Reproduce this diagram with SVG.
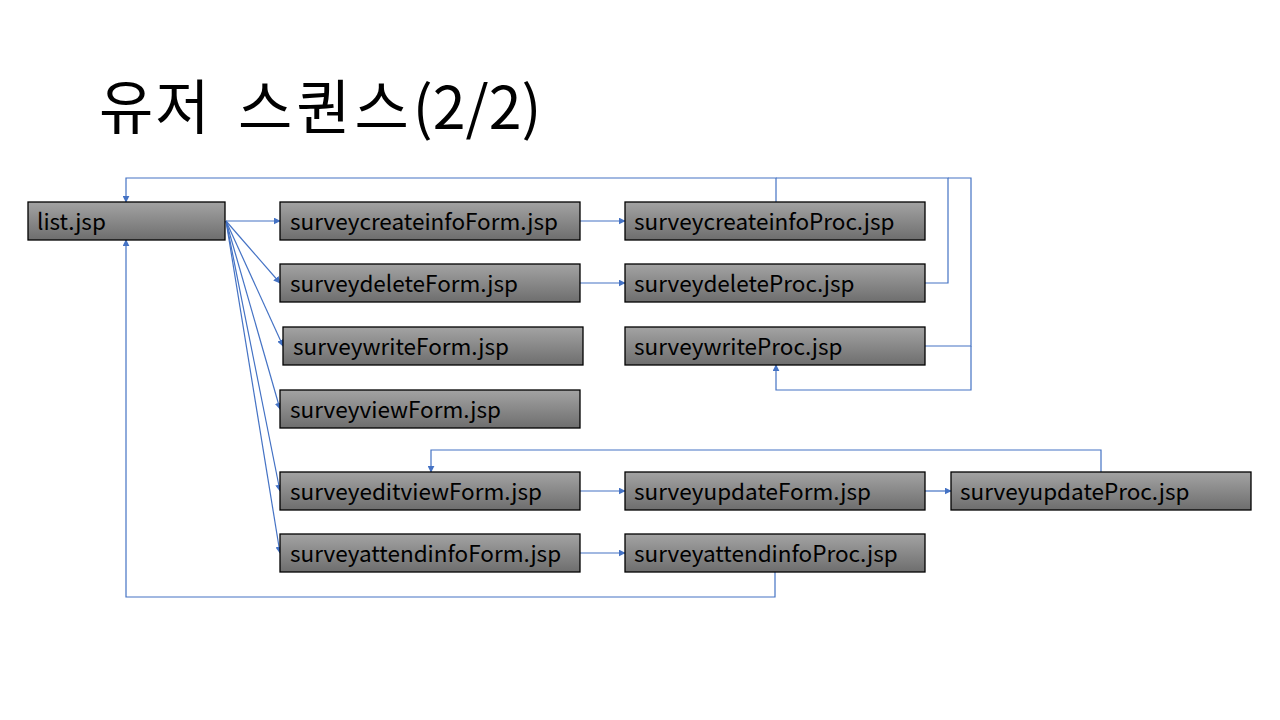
<svg xmlns="http://www.w3.org/2000/svg" width="1280" height="720" viewBox="0 0 1280 720">
<defs>
<linearGradient id="g" x1="0" y1="0" x2="0" y2="1">
<stop offset="0" stop-color="#a3a3a3"/>
<stop offset="1" stop-color="#6e6e6e"/>
</linearGradient>
<marker id="a" viewBox="0 0 10 10" refX="9" refY="5" markerWidth="7" markerHeight="7" markerUnits="userSpaceOnUse" orient="auto">
<path d="M0,0 L10,5 L0,10 z" fill="#4472C4"/>
</marker>
</defs>
<style>
.b{fill:url(#g);stroke:#000;stroke-width:1.3}
.t{font-family:"Noto Sans CJK KR","Noto Sans",sans-serif;font-size:22.5px;fill:#000}
.c{fill:none;stroke:#4472C4;stroke-width:1.2}
.title{font-family:"Noto Sans CJK KR","Noto Sans",sans-serif;font-size:59px;fill:#000}
</style>
<rect width="1280" height="720" fill="#fff"/>
<text class="title" y="129"><tspan x="99" letter-spacing="2">유저</tspan><tspan x="238" letter-spacing="4">스퀀스</tspan><tspan letter-spacing="0">(2/2)</tspan></text>
<g id="connectors">
<path class="c" d="M226,221 L280,221" marker-end="url(#a)"/>
<path class="c" d="M226,221 L280,283" marker-end="url(#a)"/>
<path class="c" d="M226,221 L283,346" marker-end="url(#a)"/>
<path class="c" d="M226,221 L280,409" marker-end="url(#a)"/>
<path class="c" d="M226,221 L280,491" marker-end="url(#a)"/>
<path class="c" d="M226,221 L280,553" marker-end="url(#a)"/>
<path class="c" d="M580,221 L625,221" marker-end="url(#a)"/>
<path class="c" d="M580,283 L625,283" marker-end="url(#a)"/>
<path class="c" d="M580,491 L625,491" marker-end="url(#a)"/>
<path class="c" d="M580,553 L625,553" marker-end="url(#a)"/>
<path class="c" d="M925,491 L951,491" marker-end="url(#a)"/>
<path class="c" d="M776,202 L776,178 L126,178 L126,202" marker-end="url(#a)"/>
<path class="c" d="M925,283 L948,283 L948,178 L776,178"/>
<path class="c" d="M925,346 L971,346 L971,178 L948,178"/>
<path class="c" d="M971,346 L971,390 L776,390 L776,365" marker-end="url(#a)"/>
<path class="c" d="M1101,472 L1101,450 L431,450 L431,472" marker-end="url(#a)"/>
<path class="c" d="M775,572 L775,597 L126,597 L126,240" marker-end="url(#a)"/>
</g>
<g id="list"><rect class="b" x="28" y="202" width="197" height="38"/><text class="t" x="37" y="230">list.jsp</text></g>
<g id="surveycreateinfoForm"><rect class="b" x="280" y="202" width="300" height="38"/><text class="t" x="290" y="230">surveycreateinfoForm.jsp</text></g>
<g id="surveydeleteForm"><rect class="b" x="280" y="264" width="300" height="38"/><text class="t" x="290" y="292">surveydeleteForm.jsp</text></g>
<g id="surveywriteForm"><rect class="b" x="283" y="327" width="300" height="38"/><text class="t" x="293" y="355">surveywriteForm.jsp</text></g>
<g id="surveyviewForm"><rect class="b" x="280" y="390" width="300" height="38"/><text class="t" x="290" y="418">surveyviewForm.jsp</text></g>
<g id="surveyeditviewForm"><rect class="b" x="280" y="472" width="300" height="38"/><text class="t" x="290" y="500">surveyeditviewForm.jsp</text></g>
<g id="surveyattendinfoForm"><rect class="b" x="280" y="534" width="300" height="38"/><text class="t" x="290" y="562">surveyattendinfoForm.jsp</text></g>
<g id="surveycreateinfoProc"><rect class="b" x="625" y="202" width="300" height="38"/><text class="t" x="634" y="230">surveycreateinfoProc.jsp</text></g>
<g id="surveydeleteProc"><rect class="b" x="625" y="264" width="300" height="38"/><text class="t" x="634" y="292">surveydeleteProc.jsp</text></g>
<g id="surveywriteProc"><rect class="b" x="625" y="327" width="300" height="38"/><text class="t" x="634" y="355">surveywriteProc.jsp</text></g>
<g id="surveyupdateForm"><rect class="b" x="625" y="472" width="300" height="38"/><text class="t" x="634" y="500">surveyupdateForm.jsp</text></g>
<g id="surveyattendinfoProc"><rect class="b" x="625" y="534" width="300" height="38"/><text class="t" x="634" y="562">surveyattendinfoProc.jsp</text></g>
<g id="surveyupdateProc"><rect class="b" x="951" y="472" width="300" height="38"/><text class="t" x="960" y="500">surveyupdateProc.jsp</text></g>
</svg>
